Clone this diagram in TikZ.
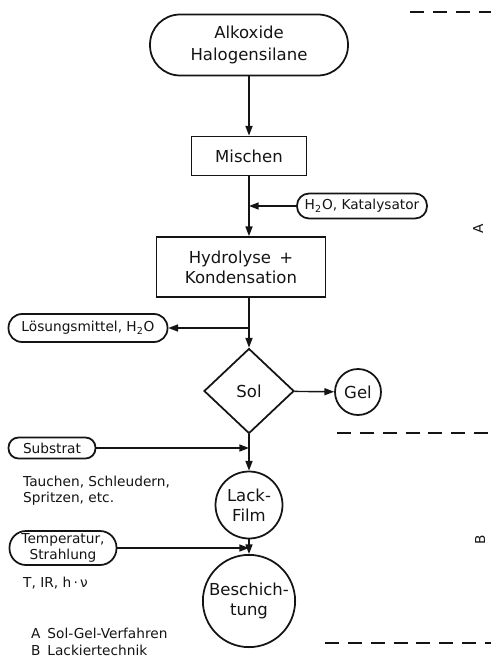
\documentclass[tikz,border=0pt]{standalone}
\usepackage{fontspec}
\setmainfont{DejaVu Sans}
\usepackage{tikz}
\usetikzlibrary{arrows.meta,shapes.geometric}
\definecolor{ScanInk}{HTML}{141414}
\tikzset{
  figlabel/.style={font=\fontsize{9.4}{11.5}\selectfont, text=ScanInk},
  figsmall/.style={font=\fontsize{7.8}{8.8}\selectfont, text=ScanInk, align=left},
  figbox/.style={draw=ScanInk, line width=1pt, align=center, inner sep=1pt},
  stepbox/.style={figbox, rectangle},
  termbox/.style={figbox, rectangle, font=\fontsize{7.8}{8.8}\selectfont},
  decbox/.style={figbox, diamond},
  statebox/.style={figbox, circle},
  figarrow/.style={-{Triangle[length=5.5pt,width=4pt]}, line width=0.8pt, draw=ScanInk},
  figsep/.style={line width=0.9pt, draw=ScanInk, dash pattern=on 8pt off 5pt}
}
\begin{document}
\begin{tikzpicture}[x=0.02cm, y=-0.02cm, every node/.style={figlabel}]
\useasboundingbox (0,0) rectangle (491,662);
% main line
\node[termbox, font=\fontsize{9.4}{13}\selectfont, minimum width=3.96cm, minimum height=1.22cm, rounded corners=0.6cm] (src) at (249,45) {Alkoxide\\Halogensilane};
\node[stepbox, minimum width=2.3cm, minimum height=0.78cm] (mix) at (249,156) {Mischen};
\node[termbox, minimum width=2.6cm, minimum height=0.5cm, rounded corners=0.24cm] (kat) at (362,206) {H\textsubscript{2}O, Katalysator};
\node[stepbox, minimum width=3.38cm, minimum height=1.2cm] (hyd) at (241,267) {Hydrolyse\enspace+\\Kondensation};
\node[termbox, minimum width=3.18cm, minimum height=0.56cm, rounded corners=0.27cm] (lsg) at (88,328) {Lösungsmittel, H\textsubscript{2}O};
\node[decbox, minimum width=1.8cm, minimum height=1.7cm] (sol) at (249,391) {Sol};
\node[statebox, minimum size=0.92cm] (gel) at (358,392) {Gel};
\node[termbox, minimum width=1.74cm, minimum height=0.42cm, rounded corners=0.2cm] (sub) at (52,448) {Substrat};
\node[figsmall, anchor=north west] (subhow) at (17,470) {Tauchen, Schleudern,\\Spritzen, etc.};
\node[statebox, minimum size=1.34cm] (film) at (249,505) {Lack-\\Film};
\node[termbox, minimum width=2.14cm, minimum height=0.68cm, rounded corners=0.33cm] (tmp) at (63,548) {Temperatur,\\Strahlung};
\node[figsmall, anchor=west] (tmphow) at (17,583) {T, IR, h\,·\,ν};
\node[statebox, minimum size=1.76cm] (coat) at (249,601) {Beschich-\\tung};
% legend and parts
\node[figsmall, anchor=west] (lega) at (25,633) {A\enspace Sol-Gel-Verfahren};
\node[figsmall, anchor=west] (legb) at (25,650) {B\enspace Lackiertechnik};
\node[figsmall, rotate=90] (parta) at (478,229) {A};
\node[figsmall, rotate=90] (partb) at (480,540) {B};
\draw[figsep] (410,12) -- (491,12);
\draw[figsep] (337,433) -- (491,433);
\draw[figsep] (325,643) -- (491,643);
% connectors
\draw[figarrow] (src) -- (mix);
\draw[figarrow] (mix) -- (mix |- hyd.north);
\draw[figarrow] (kat.west) -- (kat.west -| mix);
\draw[figarrow] (hyd.south -| mix) -- (sol);
\draw[figarrow] (lsg.east -| mix) -- (lsg.east);
\draw[figarrow] (sol) -- (gel);
\draw[figarrow] (sol) -- (film);
\draw[figarrow] (sub.east) -- (sub.east -| film);
\draw[figarrow] (film) -- (coat);
\draw[figarrow] (tmp.east) -- (tmp.east -| coat);
\end{tikzpicture}
\end{document}
